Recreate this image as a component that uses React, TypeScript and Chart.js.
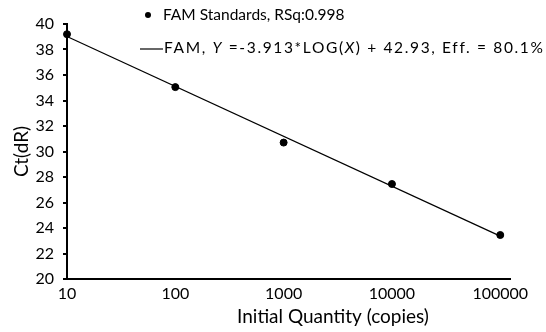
import React, { useEffect, useRef } from "react";
import { Chart, registerables } from "chart.js";

Chart.register(...registerables);

const quantities = [10, 100, 1000, 10000, 100000];
const ctValues = [39.2, 35.05, 30.7, 27.45, 23.45];
const fitX = [10, 100000];
const fitY = [39.017, 23.365];
const xTicks = [10, 100, 1000, 10000, 100000];
const xTitle = "Initial Quantity (copies)";
const yTitle = "Ct(dR)";
const legendStandards = "FAM Standards, RSq:0.998";
const legendFitParts: [string, boolean][] = [
  ["FAM, ", false],
  ["Y", true],
  [" =-3.913*LOG(", false],
  ["X", true],
  [") + 42.93, Eff. = 80.1%", false],
];

const FONT = "Lato, 'Open Sans', sans-serif";
const LEG = 15.5;

const legendPlugin = {
  id: "customLegend",
  afterDraw(chart: any) {
    const ctx = chart.ctx as CanvasRenderingContext2D;
    ctx.save();
    ctx.fillStyle = "#000";
    ctx.strokeStyle = "#000";
    ctx.textBaseline = "middle";
    ctx.textAlign = "left";
    // row 1
    ctx.beginPath();
    ctx.arc(148, 15, 3, 0, Math.PI * 2);
    ctx.fill();
    ctx.font = `${LEG}px ${FONT}`;
    ctx.fillText(legendStandards, 163, 15);
    // row 2
    ctx.lineWidth = 1.2;
    ctx.beginPath();
    ctx.moveTo(140, 49);
    ctx.lineTo(163, 49);
    ctx.stroke();
    let total = 0;
    let nchars = 0;
    for (const [t, it] of legendFitParts) {
      ctx.font = `${it ? "italic " : ""}${LEG}px ${FONT}`;
      total += ctx.measureText(t).width;
      nchars += t.length;
    }
    const ls = (380 - total) / nchars;
    (ctx as any).letterSpacing = `${ls}px`;
    let x = 164;
    for (const [t, it] of legendFitParts) {
      ctx.font = `${it ? "italic " : ""}${LEG}px ${FONT}`;
      ctx.fillText(t, x, 48);
      x += ctx.measureText(t).width;
    }
    (ctx as any).letterSpacing = "0px";
    // x-axis title
    ctx.font = `19px ${FONT}`;
    ctx.textAlign = "center";
    ctx.fillText(xTitle, 333, 317);
    ctx.restore();
  },
};

export default function App() {
  const ref = useRef<HTMLCanvasElement>(null);
  useEffect(() => {
    const chart = new Chart(ref.current!, {
      type: "scatter",
      data: {
        datasets: [
          {
            type: "line",
            data: fitX.map((x, i) => ({ x, y: fitY[i] })),
            borderColor: "#000",
            borderWidth: 1.2,
            pointRadius: 0,
            fill: false,
            clip: false,
          } as any,
          {
            data: quantities.map((x, i) => ({ x, y: ctValues[i] })),
            backgroundColor: "#000",
            borderColor: "#000",
            pointRadius: 3.5,
            clip: false,
          } as any,
        ],
      },
      plugins: [legendPlugin],
      options: {
        animation: false,
        responsive: true,
        maintainAspectRatio: false,
        layout: { padding: { top: 24, right: 36, left: 0, bottom: 0 } },
        plugins: { legend: { display: false }, tooltip: { enabled: false } },
        scales: {
          x: {
            type: "logarithmic",
            min: 10,
            max: 123000,
            afterBuildTicks(scale: any) {
              scale.ticks = xTicks.map((v) => ({ value: v }));
            },
            afterFit(scale: any) {
              scale.height = 53;
            },
            ticks: {
              color: "#000",
              font: { family: FONT, size: 16 },
              maxRotation: 0,
              autoSkip: false,
              padding: 5,
              callback: (v: any) => String(v),
            },
            grid: { drawOnChartArea: false, drawTicks: false, color: "#000" },
            border: { color: "#000", width: 2 },
          },
          y: {
            min: 20,
            max: 40,
            afterFit(scale: any) {
              scale.width = 67;
            },
            ticks: {
              stepSize: 2,
              color: "#000",
              font: { family: FONT, size: 16 },
              padding: 9,
            },
            grid: { drawOnChartArea: false, color: "#000", tickLength: 4, lineWidth: 2 },
            border: { color: "#000", width: 2 },
            title: {
              display: true,
              text: yTitle,
              color: "#000",
              font: { family: FONT, size: 19 },
              padding: { top: 10, bottom: 0 },
            },
          },
        },
      },
    });
    return () => chart.destroy();
  }, []);
  return (
    <div style={{ position: "fixed", left: 0, top: 0, width: 546, height: 332, background: "#fff" }}>
      <canvas ref={ref} />
    </div>
  );
}
